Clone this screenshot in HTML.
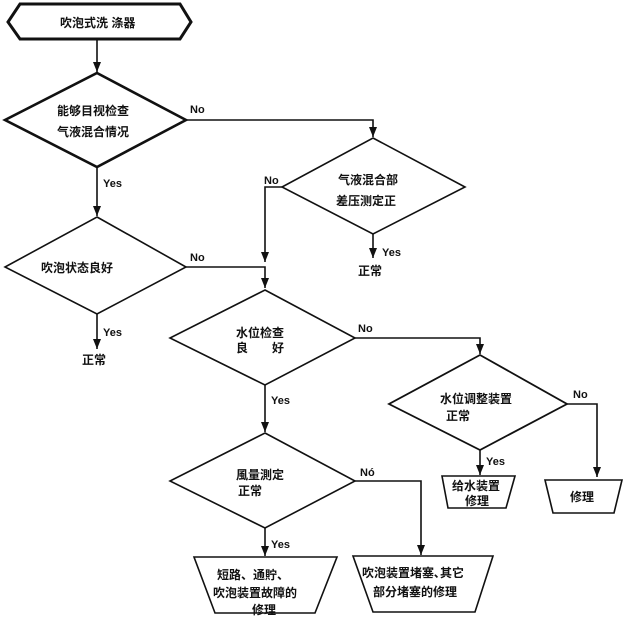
<!DOCTYPE html>
<html><head><meta charset="utf-8"><style>
html,body{margin:0;padding:0;background:#fff}
text{font-family:"Liberation Sans","Noto Sans CJK SC",sans-serif;fill:#111}
.c{font-size:12px;font-weight:bold}
.l{font-size:11px;font-weight:bold}
</style></head><body>
<svg width="624" height="618" viewBox="0 0 624 618" xmlns="http://www.w3.org/2000/svg">
<defs><marker id="a" markerWidth="10" markerHeight="8" refX="10" refY="4" orient="auto" markerUnits="userSpaceOnUse"><path d="M0,0 L10,4 L0,8 Z" fill="#111"/></marker></defs>
<g fill="none" stroke="#111" stroke-width="1.6">
<polygon points="8,22 20,4 180,4 191,22 180,39 20,39" stroke-width="3"/>
<polygon points="97,73 186,120 97,167 5,120" stroke-width="2.6"/>
<polygon points="373,138 465,187 373,234 282,187"/>
<polygon points="97,217 186,267 97,314 5,267"/>
<polygon points="265,290 355,338 265,385 170,338"/>
<polygon points="480,355 567,404 480,450 389,404" stroke-width="1.8"/>
<polygon points="265,433 355,481 265,528 170,481"/>
<polygon points="442,476 515,476 506,508 448,508"/>
<polygon points="545,480 622,480 614,513 553,513"/>
<polygon points="194,557 337,557 315,613 215,613"/>
<polygon points="353,556 493,556 475,612 373,612"/>
<g marker-end="url(#a)">
<path d="M97,40 V72"/>
<path d="M186,120 H373 V137"/>
<path d="M282,187 H265 V262"/>
<path d="M373,234 V258"/>
<path d="M97,167 V216"/>
<path d="M186,267 H265 V288"/>
<path d="M97,314 V349"/>
<path d="M355,338 H480 V354"/>
<path d="M567,404 H597 V477"/>
<path d="M480,450 V475"/>
<path d="M265,385 V432"/>
<path d="M355,481 H421 V555"/>
<path d="M265,528 V556"/>
</g></g>
<text class="c" x="60" y="27">吹泡式洗 涤器</text>
<text class="c" x="57" y="115">能够目视检查</text>
<text class="c" x="57" y="136">气液混合情况</text>
<text class="c" x="338" y="184">气液混合部</text>
<text class="c" x="336" y="205">差压测定正</text>
<text class="c" x="41" y="272">吹泡状态良好</text>
<text class="c" x="236" y="337">水位检查</text>
<text class="c" x="236" y="352">良　　好</text>
<text class="c" x="440" y="403">水位调整装置</text>
<text class="c" x="446" y="420">正常</text>
<text class="c" x="236" y="479">風量測定</text>
<text class="c" x="238" y="495">正常</text>
<text class="c" x="452" y="490">给水装置</text>
<text class="c" x="465" y="505">修理</text>
<text class="c" x="570" y="501">修理</text>
<text class="c" x="217" y="579">短路、通貯、</text>
<text class="c" x="213" y="597">吹泡装置故障的</text>
<text class="c" x="252" y="614">修理</text>
<text class="c" x="362" y="577">吹泡装置堵塞､其它</text>
<text class="c" x="373" y="596">部分堵塞的修理</text>
<text class="c" x="358" y="275">正常</text>
<text class="c" x="82" y="364">正常</text>
<text class="l" x="190" y="113">No</text>
<text class="l" x="103" y="187">Yes</text>
<text class="l" x="264" y="184">No</text>
<text class="l" x="382" y="256">Yes</text>
<text class="l" x="190" y="261">No</text>
<text class="l" x="103" y="336">Yes</text>
<text class="l" x="358" y="332">No</text>
<text class="l" x="271" y="404">Yes</text>
<text class="l" x="573" y="398">No</text>
<text class="l" x="486" y="465">Yes</text>
<text class="l" x="360" y="476">Nó</text>
<text class="l" x="271" y="548">Yes</text>
</svg>
</body></html>
